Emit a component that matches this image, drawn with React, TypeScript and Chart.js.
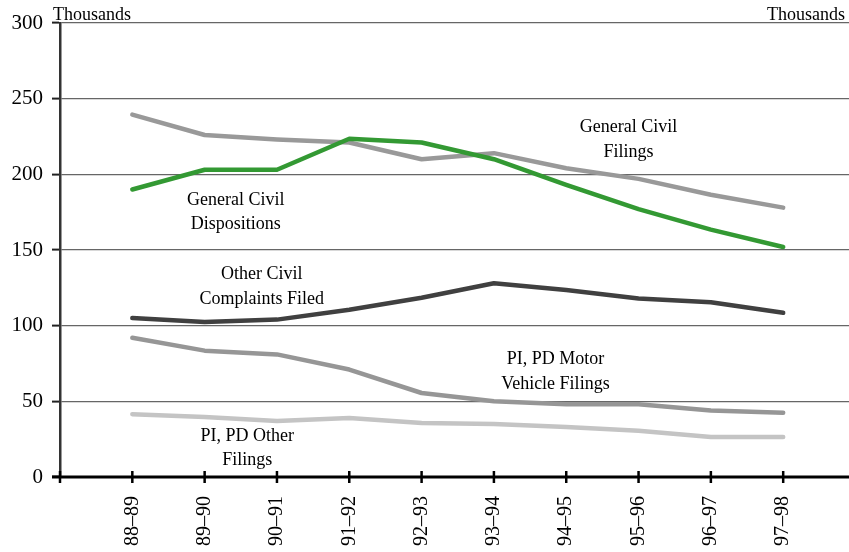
import React, { useEffect, useRef } from "react";
import { Chart, registerables } from "chart.js";

Chart.register(...registerables);

const categories = ["88–89", "89–90", "90–91", "91–92", "92–93", "93–94", "94–95", "95–96", "96–97", "97–98"];
const generalCivilDispositions = [190, 203, 203, 223.5, 221, 210, 193, 177, 163.5, 152];
const generalCivilFilings = [239.5, 226, 223, 221, 210, 214, 204, 197, 186.5, 178];
const otherCivilComplaints = [105, 102.5, 104, 110.5, 118.5, 128, 123.5, 118, 115.5, 108.5];
const piPdMotorVehicle = [92, 83.5, 81, 71, 55.5, 50, 48, 48, 44, 42.5];
const piPdOther = [41.5, 39.7, 37, 39, 35.7, 35, 33, 30.5, 26.5, 26.5];
const yTicks = [0, 50, 100, 150, 200, 250, 300];
const unitLabel = "Thousands";

// annotation anchors (centre of the text block) in data space (category index, value)
const annotations = [
  { lines: ["General Civil", "Filings"], x: 6.86, y: 223 },
  { lines: ["General Civil", "Dispositions"], x: 1.43, y: 175 },
  { lines: ["Other Civil", "Complaints Filed"], x: 1.79, y: 125.6 },
  { lines: ["PI, PD Motor", "Vehicle Filings"], x: 5.85, y: 69.7 },
  { lines: ["PI, PD Other", "Filings"], x: 1.59, y: 19 },
];

const FONT = "'Liberation Serif', 'Times New Roman', serif";

const toPoints = (arr: number[]) => arr.map((v, i) => ({ x: i, y: v }));

export default function App() {
  const ref = useRef<HTMLCanvasElement>(null);

  useEffect(() => {
    if (!ref.current) return;

    const overlay = {
      id: "overlay",
      afterDraw(chart: any) {
        const ctx = chart.ctx;
        const xs = chart.scales.x;
        const ys = chart.scales.y;
        const area = chart.chartArea;
        ctx.save();
        // x tick marks crossing the axis
        ctx.strokeStyle = "#000";
        ctx.lineWidth = 2.5;
        for (let i = -1; i < categories.length; i++) {
          const px = xs.getPixelForValue(i);
          ctx.beginPath();
          ctx.moveTo(px, area.bottom - 6);
          ctx.lineTo(px, area.bottom + 6);
          ctx.stroke();
        }
        // x axis line
        ctx.lineWidth = 3;
        ctx.beginPath();
        ctx.moveTo(area.left - 8, area.bottom);
        ctx.lineTo(area.right, area.bottom);
        ctx.stroke();

        // unit labels
        ctx.fillStyle = "#000";
        ctx.font = `18px ${FONT}`;
        ctx.textBaseline = "alphabetic";
        ctx.textAlign = "left";
        ctx.fillText(unitLabel, 53, 20);
        ctx.textAlign = "right";
        ctx.fillText(unitLabel, 845, 20);

        // annotations
        ctx.textAlign = "center";
        ctx.textBaseline = "middle";
        annotations.forEach((a) => {
          const cx = xs.getPixelForValue(a.x);
          const cy = ys.getPixelForValue(a.y);
          a.lines.forEach((t, k) => {
            ctx.fillText(t, cx, cy + (k - (a.lines.length - 1) / 2) * 24.5);
          });
        });
        ctx.restore();
      },
    };

    const common = {
      fill: false,
      borderWidth: 4.5,
      pointRadius: 0,
      pointHoverRadius: 0,
      tension: 0,
      borderCapStyle: "round" as const,
      borderJoinStyle: "round" as const,
    };

    const chart = new Chart(ref.current, {
      type: "line",
      data: {
        datasets: [
          { ...common, label: "General Civil Dispositions", data: toPoints(generalCivilDispositions), borderColor: "#339933" },
          { ...common, label: "General Civil Filings", data: toPoints(generalCivilFilings), borderColor: "#999999" },
          { ...common, label: "Other Civil Complaints Filed", data: toPoints(otherCivilComplaints), borderColor: "#404040" },
          { ...common, label: "PI, PD Motor Vehicle Filings", data: toPoints(piPdMotorVehicle), borderColor: "#969696" },
          { ...common, label: "PI, PD Other Filings", data: toPoints(piPdOther), borderColor: "#c4c4c4" },
        ],
      },
      options: {
        animation: false,
        responsive: false,
        maintainAspectRatio: false,
        layout: { padding: { top: 23, left: 0, right: 0, bottom: 0 } },
        plugins: { legend: { display: false }, tooltip: { enabled: false } },
        scales: {
          x: {
            type: "linear",
            min: -1,
            max: 9.91,
            afterBuildTicks: (scale: any) => {
              scale.ticks = [-1, ...categories.map((_, i) => i)].map((v) => ({ value: v }));
            },
            afterFit: (scale: any) => {
              scale.height = 75;
            },
            grid: { display: false },
            border: { display: false },
            ticks: {
              autoSkip: false,
              maxRotation: 90,
              minRotation: 90,
              padding: 11,
              color: "#000",
              font: { family: FONT, size: 20 },
              callback: (v: any) => (v >= 0 && v < categories.length && Number.isInteger(v) ? categories[v] : ""),
            },
          },
          y: {
            min: 0,
            max: 300,
            afterBuildTicks: (scale: any) => {
              scale.ticks = yTicks.map((v) => ({ value: v }));
            },
            afterFit: (scale: any) => {
              scale.width = 60;
            },
            grid: {
              color: (c: any) => (c.tick && c.tick.value === 0 ? "rgba(0,0,0,0)" : "#666666"),
              lineWidth: 1.2,
              tickLength: 8,
              tickColor: "#222",
              tickWidth: 2,
            },
            border: { display: true, color: "#333", width: 2.5 },
            ticks: {
              padding: 9,
              color: "#000",
              font: { family: FONT, size: 21 },
            },
          },
        },
      },
      plugins: [overlay],
    });

    return () => chart.destroy();
  }, []);

  return (
    <div style={{ position: "absolute", left: 0, top: 0, width: 849, height: 552, background: "#fff" }}>
      <canvas ref={ref} width={849} height={552} style={{ width: 849, height: 552, display: "block" }} />
    </div>
  );
}
